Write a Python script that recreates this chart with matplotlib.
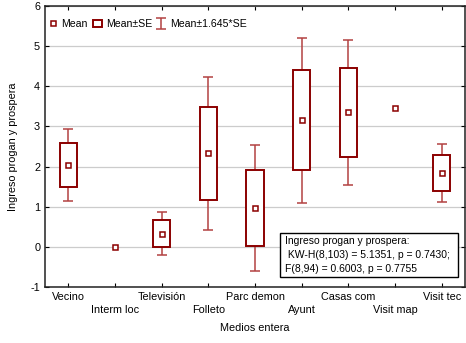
import numpy as np
import matplotlib
matplotlib.use("Agg")
import matplotlib.pyplot as plt
from matplotlib.patches import Rectangle

plt.rcParams['font.family'] = ['Liberation Sans', 'DejaVu Sans']

categories = ["Vecino", "Interm loc", "Televisión", "Folleto", "Parc demon",
              "Ayunt", "Casas com", "Visit map", "Visit tec"]
means = [2.04, 0.0, 0.33, 2.33, 0.97, 3.15, 3.35, 3.45, 1.84]
se = [0.55, 0.0, 0.33, 1.16, 0.95, 1.245, 1.10, 0.0, 0.44]
yticks = [-1, 0, 1, 2, 3, 4, 5, 6]
stats_lines = ["Ingreso progan y prospera:",
               " KW-H(8,103) = 5.1351, p = 0.7430;",
               "F(8,94) = 0.6003, p = 0.7755"]

dark = "#8b0000"
whisk = "#b34141"

fig = plt.figure(figsize=(4.66, 3.43), dpi=100)
ax = fig.add_axes([0.0966, 0.163, 0.9014, 0.8195])

x = np.arange(1, len(categories) + 1)
means_a = np.array(means)
se_a = np.array(se)
has = se_a > 0

ax.errorbar(x[has], means_a[has], yerr=1.645 * se_a[has], fmt='none',
            ecolor=whisk, elinewidth=1.1, capsize=3.3, capthick=1.1,
            zorder=2, label="Mean±1.645*SE")
ax.bar(x[has], 2 * se_a[has], bottom=means_a[has] - se_a[has], width=0.37,
       facecolor='white', edgecolor=dark, linewidth=1.4, zorder=3,
       label="Mean±SE")
ax.plot(x, means_a, linestyle='none', marker='s', markersize=3.6,
        markerfacecolor='white', markeredgecolor=dark, markeredgewidth=1.1,
        zorder=4, label="Mean")

ax.set_xlim(0.5, len(categories) + 0.5)
ax.set_ylim(-1, 6)
ax.set_yticks(yticks)
ax.set_yticklabels([str(v) for v in yticks], fontsize=7.8)
ax.set_xticks(x)
ax.set_xticklabels([c if i % 2 == 0 else "\n" + c for i, c in enumerate(categories)],
                   fontsize=7.8, linespacing=1.4)
ax.tick_params(direction='in', length=3, top=True, right=True, width=0.8,
               pad=3.5)
ax.yaxis.grid(True, color='#cccccc', linewidth=0.9)
ax.set_axisbelow(True)
for s in ax.spines.values():
    s.set_linewidth(1.1)
    s.set_color('#222222')

ax.set_xlabel("Medios entera", fontsize=7.8, labelpad=6)
ax.set_ylabel("Ingreso progan y prospera", fontsize=7.8, labelpad=9)

h, l = ax.get_legend_handles_labels()
order = [l.index("Mean"), l.index("Mean±SE"), l.index("Mean±1.645*SE")]
ax.legend([h[i] for i in order], [l[i] for i in order], loc='upper left',
          ncol=3, frameon=False, fontsize=7.6, handlelength=0.9,
          handletextpad=0.35, columnspacing=0.45, borderaxespad=0.0,
          borderpad=0.3, bbox_to_anchor=(0.0, 0.965))

ax.add_patch(Rectangle((0.5595, 0.0356), 0.4235, 0.156, transform=ax.transAxes,
                       facecolor='white', edgecolor='black', linewidth=1.0,
                       zorder=6))
ys = [0.163, 0.114, 0.066]
for line, yy in zip(stats_lines, ys):
    ax.text(0.571, yy, line, transform=ax.transAxes, fontsize=7.5,
            va='center', ha='left', zorder=7)

fig.savefig("out.png", dpi=100)
